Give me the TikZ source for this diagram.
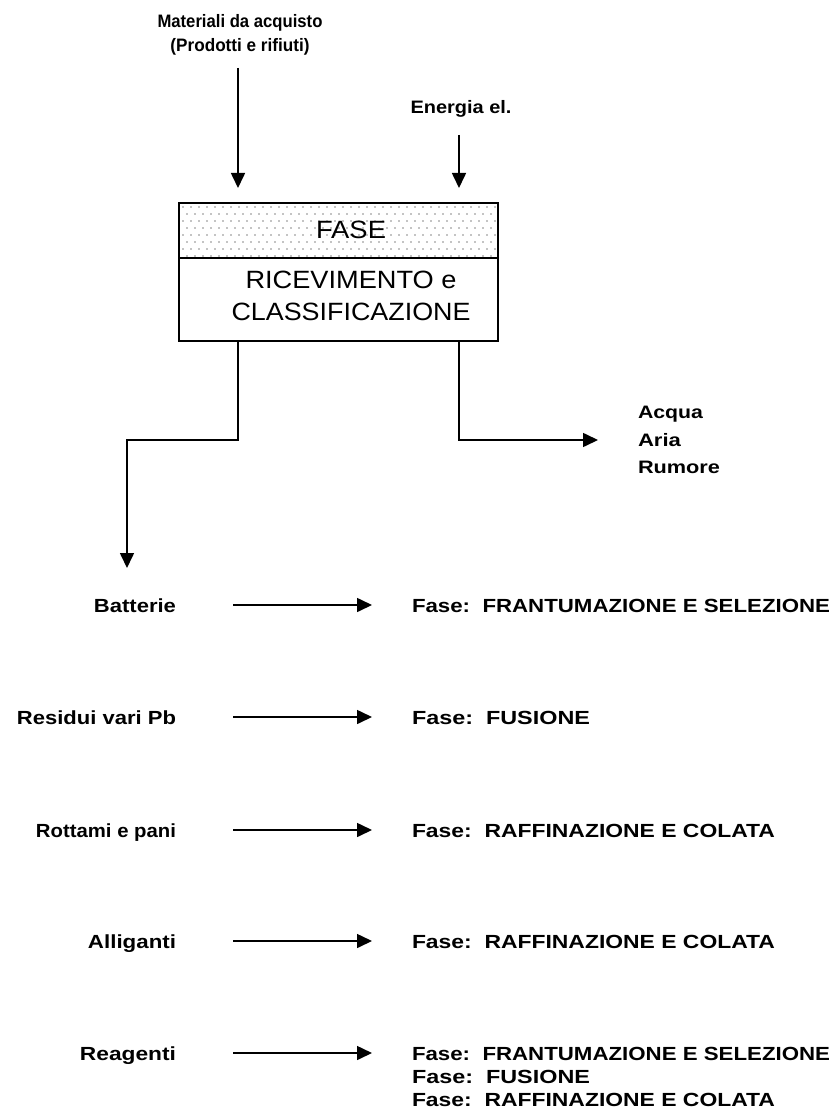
\documentclass[tikz,border=0pt]{standalone}
\usepackage{graphicx}
\usepackage{fontspec}
\setmainfont{Liberation Sans}
\usetikzlibrary{arrows.meta,calc}

% set a text to a given width, keeping its height
\newcommand\fw[2]{\resizebox{#1pt}{\height}{#2}}

\begin{document}
\begin{tikzpicture}[x=1pt,y=-1pt,
  every node/.style={inner sep=0pt, outer sep=0pt},
  small/.style={font=\fontsize{18}{22}\selectfont\bfseries},
  lbl/.style={font=\fontsize{19}{23}\selectfont\bfseries, anchor=base east},
  dest/.style={font=\fontsize{19}{23}\selectfont\bfseries, anchor=base west},
  boxtxt/.style={font=\fontsize{25}{32}\selectfont, anchor=base},
  arr/.style={line width=1.6pt, -{Triangle[length=15pt,width=14pt]}}
]
\useasboundingbox (0,0) rectangle (834,1115);

% incoming material and energy
\node[small, anchor=base] (mat1) at (240,28) {\fw{165}{Materiali da acquisto}};
\node[small, anchor=base] (mat2) at (240,52) {\fw{139}{(Prodotti e rifiuti)}};
\node[small, anchor=base] (en) at (461,114) {\fw{101}{Energia el.}};

% phase box: dotted header and description
\node[minimum width=319pt, minimum height=55pt, anchor=north west] (fase) at (179,203) {};
\node[minimum width=319pt, minimum height=83pt, anchor=north west] (ric) at (fase.south west) {};
\begin{scope}
  \clip (fase.north west) rectangle (fase.south east);
  \foreach \r in {0,2,4,6} \foreach \c in {0,...,40}
    \fill (183+\c*8, 207+\r*7) circle[radius=0.6pt];
  \foreach \r in {1,3,5,7} \foreach \c in {0,...,40}
    \fill (187+\c*8, 207+\r*7) circle[radius=0.6pt];
\end{scope}
\draw[line width=1.2pt] (fase.south west) -- (fase.south east);
\draw[line width=2pt] (fase.north west) rectangle (ric.south east);
\node[boxtxt] (fasetxt) at (351,238) {\fw{70}{FASE}};
\node[boxtxt] (rictxt1) at (351,288) {\fw{211}{RICEVIMENTO e}};
\node[boxtxt] (rictxt2) at (351,320) {\fw{239}{CLASSIFICAZIONE}};

\draw[arr] ($(fase.north west)+(59,-135)$) -- ($(fase.north west)+(59,-15)$);
\draw[arr] ($(fase.north east)+(-39,-68)$) -- ($(fase.north east)+(-39,-15)$);

% emissions
\node[small, anchor=base west] (e1) at (638,418) {\fw{65}{Acqua}};
\node[small, anchor=base west] (e2) at (638,446) {\fw{43}{Aria}};
\node[small, anchor=base west] (e3) at (638,473) {\fw{82}{Rumore}};
\draw[arr] ($(ric.south east)+(-39,0)$) |- ($(e2.base west)+(-40,-6)$);

% sorted materials
\coordinate (drop) at (127,568);
\draw[arr] ($(ric.south west)+(59,0)$) -- ++(0,99) -| (drop);

\node[lbl] (l1) at (176,612) {\fw{82}{Batterie}};
\node[lbl] (l2) at (176,724) {\fw{159}{Residui vari Pb}};
\node[lbl] (l3) at (176,837) {\fw{140}{Rottami e pani}};
\node[lbl] (l4) at (176,948) {\fw{88}{Alliganti}};
\node[lbl] (l5) at (176,1060) {\fw{96}{Reagenti}};

\node[dest] (r1) at (412,612) {\fw{418}{Fase:\ \ FRANTUMAZIONE E SELEZIONE}};
\node[dest] (r2) at (412,724) {\fw{178}{Fase:\ \ FUSIONE}};
\node[dest] (r3) at (412,837) {\fw{363}{Fase:\ \ RAFFINAZIONE E COLATA}};
\node[dest] (r4) at (412,948) {\fw{363}{Fase:\ \ RAFFINAZIONE E COLATA}};
\node[dest] (r5) at (412,1060) {\fw{418}{Fase:\ \ FRANTUMAZIONE E SELEZIONE}};
\node[dest] (r5b) at (412,1083) {\fw{178}{Fase:\ \ FUSIONE}};
\node[dest] (r5c) at (412,1106) {\fw{363}{Fase:\ \ RAFFINAZIONE E COLATA}};

\foreach \i in {1,...,5}
  \draw[arr] ($(l\i.base east)+(57,-7)$) -- ($(r\i.base west)+(-40,-7)$);
\end{tikzpicture}
\end{document}
